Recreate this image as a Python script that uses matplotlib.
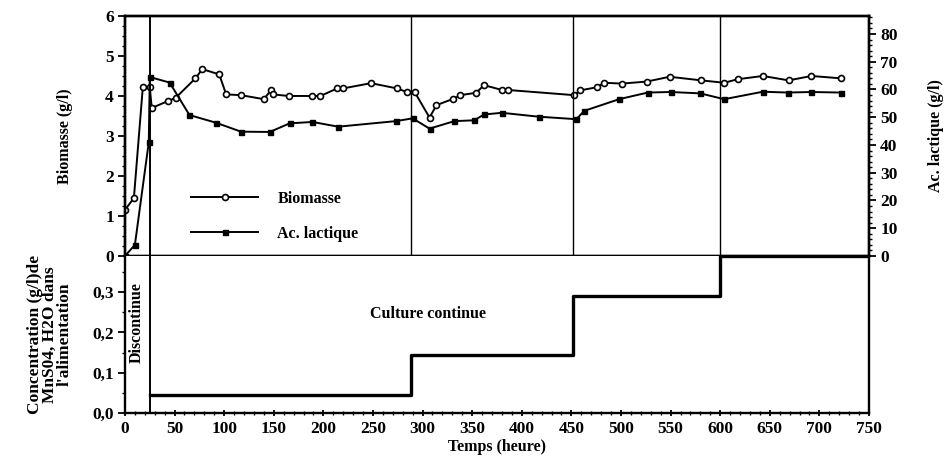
import matplotlib
matplotlib.use("Agg")
import matplotlib.pyplot as plt
from matplotlib.ticker import MultipleLocator, FixedLocator

plt.rcParams['font.family'] = ['Liberation Serif', 'DejaVu Serif']
plt.rcParams['font.weight'] = 'bold'
plt.rcParams['axes.labelweight'] = 'bold'
plt.rcParams['font.size'] = 11.5

# biomasse (g/l), cercles ouverts
biomass_t = [0, 9, 18, 25, 27, 43, 51, 71, 78, 95, 102, 117, 140, 147, 149, 165,
             189, 197, 214, 220, 248, 274, 284, 292, 307, 314, 331, 338, 354, 362,
             380, 386, 453, 459, 476, 483, 501, 526, 549, 581, 604, 618, 643, 669,
             692, 722]
biomass = [1.15, 1.45, 4.22, 4.22, 3.7, 3.87, 3.95, 4.44, 4.67, 4.54, 4.04, 4.02,
           3.92, 4.14, 4.04, 4.0, 4.0, 4.0, 4.19, 4.19, 4.32, 4.19, 4.1, 4.1, 3.46,
           3.77, 3.93, 4.02, 4.08, 4.27, 4.15, 4.15, 4.02, 4.14, 4.22, 4.33, 4.31,
           4.36, 4.48, 4.39, 4.33, 4.42, 4.5, 4.39, 4.5, 4.44]

# acide lactique (g/l), carres pleins
lactic_t = [0, 10, 24, 25, 45, 65, 92, 117, 146, 166, 189, 215, 273, 290, 307, 332,
            352, 362, 380, 417, 455, 463, 498, 527, 550, 580, 604, 643, 668, 692, 722]
lactic = [0, 4, 41, 64.5, 62.5, 50.8, 48, 44.8, 44.7, 47.8, 48.3, 46.6, 48.6, 49.6,
          45.9, 48.6, 48.9, 51, 51.6, 50.2, 49.3, 52.3, 56.5, 58.9, 59.1, 58.6, 56.5,
          59.2, 58.9, 59.1, 58.9]

# MnSO4 dans l'alimentation
conc_t = [25, 288, 452, 600, 750]
conc = [0.045, 0.145, 0.29, 0.39, 0.39]
changes = [288, 452, 600]

fig = plt.figure(figsize=(9.46, 4.71), dpi=100)
ax = fig.add_axes([0.1321, 0.4565, 0.7865, 0.5096])
ax2 = ax.twinx()
axb = fig.add_axes([0.1321, 0.1231, 0.7865, 0.3334])

ax.plot(biomass_t, biomass, '-o', color='black', lw=1.4, ms=4.3,
        mfc='white', mec='black', mew=1.2, label='Biomasse')
ax2.plot(lactic_t, lactic, '-s', color='black', lw=1.4, ms=3.6, label='Ac. lactique')

ax.axvline(25, color='black', lw=1.4)
for t in changes:
    ax.axvline(t, color='black', lw=1.0)

ax.set_xlim(0, 750)
ax.set_ylim(0, 6)
ax2.set_ylim(0, 86.5)
ax.set_xticks([])
ax.yaxis.set_major_locator(MultipleLocator(1))
ax.yaxis.set_minor_locator(MultipleLocator(0.25))
ax2.yaxis.set_major_locator(MultipleLocator(10))
ax2.yaxis.set_minor_locator(MultipleLocator(2))
ax.set_ylabel('Biomasse (g/l)', labelpad=23)
ax2.set_ylabel('Ac. lactique (g/l)', labelpad=22)

h1, l1 = ax.get_legend_handles_labels()
h2, l2 = ax2.get_legend_handles_labels()
ax2.legend(h1 + h2, l1 + l2, loc='center left', bbox_to_anchor=(0.078, 0.165),
           frameon=False, numpoints=1, handlelength=4.2, handletextpad=1.2,
           labelspacing=1.2, borderpad=0)

# concentration en paliers
axb.plot(conc_t, conc, color='black', lw=2.4, drawstyle='steps-post')
axb.axvline(25, color='black', lw=1.4)
axb.set_xlim(0, 750)
axb.set_ylim(0, 0.39)
axb.xaxis.set_major_locator(MultipleLocator(50))
axb.xaxis.set_minor_locator(MultipleLocator(10))
axb.yaxis.set_major_locator(FixedLocator([0, 0.1, 0.2, 0.3]))
axb.yaxis.set_minor_locator(MultipleLocator(0.05))
axb.set_yticklabels(['0,0', '0,1', '0,2', '0,3'])
axb.set_xlabel('Temps (heure)', labelpad=2)
axb.set_ylabel("Concentration (g/l)de\nMnS04, H2O dans\nl'alimentation",
               linespacing=0.9, labelpad=14, fontsize=12.5)
axb.text(12, 0.225, 'Discontinue', rotation=90, ha='center', va='center')
axb.text(305, 0.245, 'Culture continue', ha='center', va='center')

for a in (ax, ax2, axb):
    for s in a.spines.values():
        s.set_linewidth(1.7)
    a.tick_params(which='major', direction='out', length=5, width=1.3, pad=3,
                  labelsize=12.5)
    a.tick_params(which='minor', direction='out', length=2.5, width=1.0)
axb.spines['top'].set_visible(False)
axb.tick_params(axis='x', which='both', direction='inout')

fig.savefig('out.png', dpi=100)
